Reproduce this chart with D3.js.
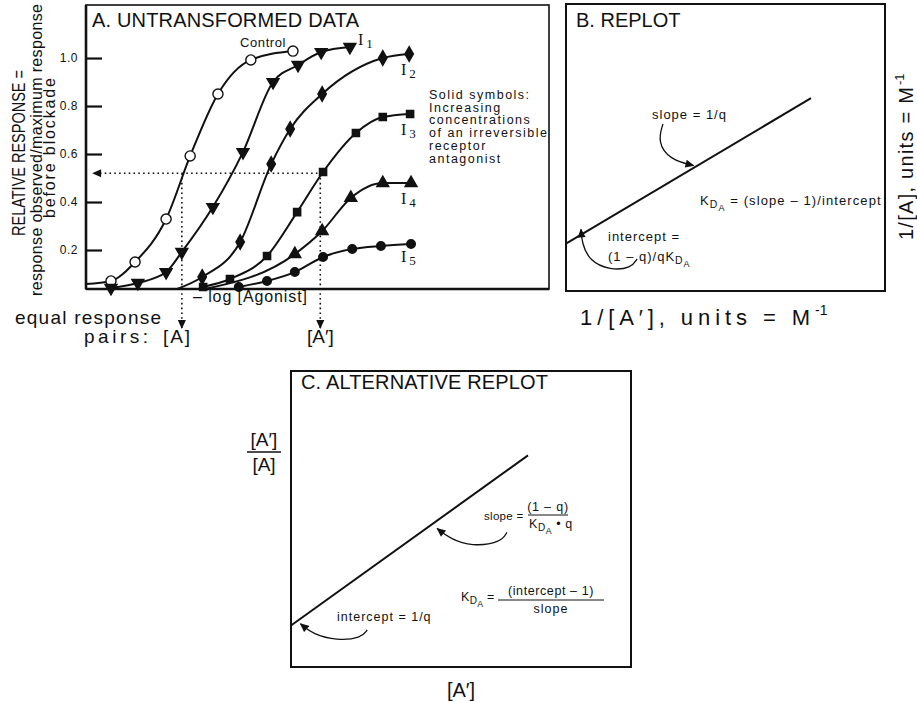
<!DOCTYPE html>
<html><head><meta charset="utf-8">
<script src="https://cdn.jsdelivr.net/npm/d3@7/dist/d3.min.js"></script>
<style>
html,body{margin:0;padding:0;background:#fff;}
svg{display:block;}
text{font-family:"Liberation Sans",Arial,Helvetica,sans-serif;fill:#111;}
</style></head><body>
<svg id="fig" width="917" height="702"></svg>
<script>
// ---------------- data (panel A: -log[Agonist] in arbitrary units, relative response) ----------------
const seriesNames = ["Control", "I1", "I2", "I3", "I4", "I5"];
const controlX = [0.54, 1.06, 1.73, 2.25, 2.85, 3.56, 4.47];
const controlY = [0.071, 0.150, 0.329, 0.592, 0.850, 0.992, 1.029];
const i1X = [0.54, 1.12, 1.73, 2.07, 2.74, 3.39, 4.04, 4.58, 5.08, 5.70];
const i1Y = [0.042, 0.0625, 0.108, 0.192, 0.379, 0.608, 0.900, 0.971, 1.025, 1.046];
const i2X = [2.51, 3.33, 4.00, 4.41, 5.10, 6.41, 6.98];
const i2Y = [0.0875, 0.233, 0.558, 0.704, 0.850, 1.000, 1.017];
const i3X = [2.53, 3.11, 3.91, 4.56, 5.12, 5.83, 6.41, 7.00];
const i3Y = [0.046, 0.079, 0.175, 0.358, 0.525, 0.6875, 0.754, 0.767];
const i4X = [4.51, 5.10, 5.72, 6.41, 7.02];
const i4Y = [0.183, 0.279, 0.417, 0.479, 0.479];
const i5X = [3.30, 3.91, 4.51, 5.12, 5.75, 6.37, 7.02];
const i5Y = [0.046, 0.071, 0.108, 0.171, 0.204, 0.217, 0.225];
// unmarked point where each drawn curve begins (null = begins at first symbol)
const curveStartX = [0, null, 1.97, null, 2.57, null];
const curveStartY = [0.058, null, 0.0375, null, 0.0375, null];
const yTickValues = [0.2, 0.4, 0.6, 0.8, 1.0];
const equalResponse = 0.52;
const pairA = 2.07, pairAprime = 5.06;
// panel B (replot) and C (alternative replot), normalised units
const replotX = [0, 0.768], replotY = [0.165, 0.672];
const altX = [0, 0.697], altY = [0.14, 0.715];
// annotation arrows (data units of their panel)
const bSlopeArrow = [[0.304, 0.582], [0.287, 0.520], [0.325, 0.458], [0.400, 0.437]];
const bInterArrow = [[0.223, 0.112], [0.205, 0.080], [0.138, 0.072], [0.072, 0.106], [0.050, 0.168], [0.047, 0.215]];
const cSlopeArrow = [[0.635, 0.455], [0.618, 0.421], [0.532, 0.407], [0.468, 0.433], [0.430, 0.468]];
const cInterArrow = [[0.224, 0.125], [0.207, 0.098], [0.135, 0.089], [0.065, 0.110], [0.028, 0.146]];

// ---------------- drawing ----------------
const ink = "#111";
const svg = d3.select("#fig");
svg.append("rect").attr("width", 917).attr("height", 702).attr("fill", "#fff");
const defs = svg.append("defs");
defs.append("marker").attr("id", "ah").attr("viewBox", "0 0 10 10")
  .attr("refX", 9).attr("refY", 5).attr("markerWidth", 10).attr("markerHeight", 9)
  .attr("markerUnits", "userSpaceOnUse").attr("orient", "auto")
  .append("path").attr("d", "M0,0.5 L10,5 L0,9.5 Z").attr("fill", ink);

function label(g, x, y, str, size, opts = {}) {
  const t = g.append("text").attr("x", x).attr("y", y).attr("font-size", size).text(str);
  if (opts.anchor) t.attr("text-anchor", opts.anchor);
  if (opts.ls !== undefined) t.attr("letter-spacing", opts.ls);
  if (opts.len) t.attr("textLength", opts.len).attr("lengthAdjust", opts.adj || "spacing");
  if (opts.rot) t.attr("transform", `rotate(-90,${x},${y})`);
  return t;
}
function kda(t, size) {
  t.append("tspan").text("K");
  t.append("tspan").attr("font-size", size * 0.8).attr("dy", 3).text("D");
  t.append("tspan").attr("font-size", size * 0.7).attr("dy", 3).text("A");
}

// ===== Panel A =====
const xA = d3.scaleLinear().domain([0, 10]).range([86, 549]);
const yA = d3.scaleLinear().domain([0.0375, 1.221]).range([289, 5]);
const gA = svg.append("g");
gA.append("rect").attr("x", xA(0)).attr("y", yA(1.221)).attr("width", xA(10) - xA(0))
  .attr("height", yA(0.0375) - yA(1.221)).attr("fill", "none").attr("stroke", ink).attr("stroke-width", 1.6);
gA.append("line").attr("x1", xA(0)).attr("x2", xA(0)).attr("y1", yA(1.221)).attr("y2", yA(0.0375))
  .attr("stroke", ink).attr("stroke-width", 2.6);
gA.append("line").attr("x1", xA(0)).attr("x2", xA(10)).attr("y1", yA(0.0375)).attr("y2", yA(0.0375))
  .attr("stroke", ink).attr("stroke-width", 2.6);
const axA = gA.append("g").attr("transform", `translate(${xA(0)},0)`)
  .call(d3.axisLeft(yA).tickValues(yTickValues).tickSize(-16).tickPadding(8).tickFormat(d3.format(".1f")));
axA.select(".domain").remove();
axA.selectAll(".tick line").attr("stroke", ink).attr("stroke-width", 2.2);
axA.selectAll(".tick text").attr("font-size", 12).attr("fill", ink).attr("letter-spacing", 0.5)
  .style("font-family", '"Liberation Sans",Arial,sans-serif');

label(gA, 92, 27, "A. UNTRANSFORMED DATA", 20, { len: 267 });

// dotted construction lines
function dline(x1, y1, x2, y2) {
  gA.append("line").attr("x1", x1).attr("y1", y1).attr("x2", x2).attr("y2", y2)
    .attr("stroke", ink).attr("stroke-width", 1.6).attr("stroke-dasharray", "1.6,3.2")
    .attr("marker-end", "url(#ah)");
}
dline(xA(pairAprime) + 2, yA(equalResponse), xA(0) + 7, yA(equalResponse));
dline(xA(pairA), yA(equalResponse), xA(pairA), yA(0.0375) + 39);
dline(xA(pairAprime), yA(equalResponse), xA(pairAprime), yA(0.0375) + 39);

// curves + symbols
const allX = [controlX, i1X, i2X, i3X, i4X, i5X];
const allY = [controlY, i1Y, i2Y, i3Y, i4Y, i5Y];
const symbols = [
  { type: d3.symbolCircle, size: 80, rot: 0, fill: "#fff" },
  { type: d3.symbolTriangle, size: 62, rot: 180, fill: ink },
  { type: d3.symbolDiamond, size: 62, rot: 0, fill: ink },
  { type: d3.symbolSquare, size: 52, rot: 0, fill: ink },
  { type: d3.symbolTriangle, size: 62, rot: 0, fill: ink },
  { type: d3.symbolCircle, size: 58, rot: 0, fill: ink }
];
const lineA = d3.line().x(d => xA(d[0])).y(d => yA(d[1])).curve(d3.curveMonotoneX);
seriesNames.forEach((name, i) => {
  const pts = allX[i].map((x, j) => [x, allY[i][j]]);
  const cpts = curveStartX[i] === null ? pts : [[curveStartX[i], curveStartY[i]]].concat(pts);
  gA.append("path").attr("d", lineA(cpts)).attr("fill", "none").attr("stroke", ink).attr("stroke-width", 2);
  const s = symbols[i];
  gA.selectAll(null).data(pts).enter().append("path")
    .attr("d", d3.symbol().type(s.type).size(s.size))
    .attr("transform", d => `translate(${xA(d[0])},${yA(d[1])}) rotate(${s.rot})`)
    .attr("fill", s.fill).attr("stroke", ink).attr("stroke-width", 1.4);
});

// series labels
label(gA, 240, 47, "Control", 13, { ls: 0.6 });
const iLabelPos = [null, [358, 45], [401, 75], [401, 135], [401, 204], [401, 262]];
iLabelPos.forEach((p, i) => {
  if (!p) return;
  const t = gA.append("text").attr("x", p[0]).attr("y", p[1]).attr("font-size", 16)
    .style("font-family", '"Liberation Serif","DejaVu Serif",serif');
  t.append("tspan").text("I");
  t.append("tspan").attr("font-size", 13).attr("dx", 3).attr("dy", 3).text(seriesNames[i].slice(1));
});

// explanatory note
["Solid symbols:", "Increasing", "concentrations", "of an irreversible", "receptor", "antagonist"]
  .forEach((s, i) => label(gA, 429, 99 + i * 12.7, s, 12.5, { ls: 1.5 }));

// axis labels panel A
label(gA, 193, 302, "\u2013 log [Agonist]", 16, { len: 114 });
label(svg, 15, 324, "equal response", 19, { len: 146 });
label(svg, 84, 343, "pairs:", 19, { len: 64 });
label(svg, 163, 343, "[A]", 19, { len: 27 });
label(svg, 307, 343, "[A\u2032]", 19);
label(svg, 25, 153, "RELATIVE RESPONSE =", 19, { rot: true, anchor: "middle", len: 166, adj: "spacingAndGlyphs" });
label(svg, 42, 150, "response observed/maximum response", 16, { rot: true, anchor: "middle", len: 292 });
label(svg, 55, 148, "before blockade", 16, { rot: true, anchor: "middle", len: 140 });

// ===== Panel B =====
const xB = d3.scaleLinear().domain([0, 1]).range([566, 885]);
const yB = d3.scaleLinear().domain([0, 1]).range([291, 4]);
const gB = svg.append("g");
gB.append("rect").attr("x", xB(0)).attr("y", yB(1)).attr("width", xB(1) - xB(0)).attr("height", yB(0) - yB(1))
  .attr("fill", "none").attr("stroke", ink).attr("stroke-width", 2);
label(gB, 576, 27, "B. REPLOT", 20);
const lineB = d3.line().x(d => xB(d[0])).y(d => yB(d[1]));
gB.append("path").attr("d", lineB(replotX.map((x, i) => [x, replotY[i]]))).attr("stroke", ink).attr("stroke-width", 2).attr("fill", "none");
const arrowB = d3.line().x(d => xB(d[0])).y(d => yB(d[1])).curve(d3.curveBasis);
[bSlopeArrow, bInterArrow].forEach(a => gB.append("path").attr("d", arrowB(a)).attr("fill", "none")
  .attr("stroke", ink).attr("stroke-width", 1.3).attr("marker-end", "url(#ah)"));
label(gB, 652, 119, "slope = 1/q", 13, { ls: 1 });
const kb = label(gB, 700, 205, "", 13, { ls: 1.1 });
kda(kb, 13);
kb.append("tspan").attr("dy", -6).text(" = (slope \u2013 1)/intercept");
label(gB, 608, 241, "intercept =", 13, { ls: 1 });
const ib = label(gB, 608, 261, "(1 \u2013 q)/qK", 13, { ls: 1 });
ib.append("tspan").attr("font-size", 10.4).attr("dy", 3).text("D");
ib.append("tspan").attr("font-size", 9).attr("dy", 3).text("A");
label(svg, 580, 325, "1/[A\u2032], units = M", 22, { len: 230 });
label(svg, 815, 315, "-1", 14);
svg.append("text").attr("transform", "translate(913,240) rotate(-90)").attr("font-size", 20)
  .attr("textLength", 153).attr("lengthAdjust", "spacing").text("1/[A], units = M");
svg.append("text").attr("transform", "translate(904,85) rotate(-90)").attr("font-size", 13).text("-1");

// ===== Panel C =====
const xC = d3.scaleLinear().domain([0, 1]).range([291, 631]);
const yC = d3.scaleLinear().domain([0, 1]).range([667, 371]);
const gC = svg.append("g");
gC.append("rect").attr("x", xC(0)).attr("y", yC(1)).attr("width", xC(1) - xC(0)).attr("height", yC(0) - yC(1))
  .attr("fill", "none").attr("stroke", ink).attr("stroke-width", 2);
label(gC, 301, 389, "C. ALTERNATIVE REPLOT", 20, { len: 247 });
const lineC = d3.line().x(d => xC(d[0])).y(d => yC(d[1]));
gC.append("path").attr("d", lineC(altX.map((x, i) => [x, altY[i]]))).attr("stroke", ink).attr("stroke-width", 2).attr("fill", "none");
const arrowC = d3.line().x(d => xC(d[0])).y(d => yC(d[1])).curve(d3.curveBasis);
[cSlopeArrow, cInterArrow].forEach(a => gC.append("path").attr("d", arrowC(a)).attr("fill", "none")
  .attr("stroke", ink).attr("stroke-width", 1.3).attr("marker-end", "url(#ah)"));
label(gC, 484, 520, "slope =", 11.5, { ls: 0.3 });
label(gC, 548, 511, "(1 \u2013 q)", 12.5, { anchor: "middle", ls: 0.8 });
gC.append("line").attr("x1", 528).attr("x2", 568).attr("y1", 515).attr("y2", 515).attr("stroke", ink).attr("stroke-width", 1);
const kc = label(gC, 529, 528, "", 12.5, { ls: 0.6 });
kda(kc, 12.5);
kc.append("tspan").attr("dy", -6).text(" \u2022 q");
const kc2 = label(gC, 461, 601, "", 12.5, { ls: 0.3 });
kda(kc2, 12.5);
kc2.append("tspan").attr("dy", -6).text(" =");
label(gC, 551, 595, "(intercept \u2013 1)", 12.5, { anchor: "middle", ls: 0.6 });
gC.append("line").attr("x1", 498).attr("x2", 604).attr("y1", 600).attr("y2", 600).attr("stroke", ink).attr("stroke-width", 1);
label(gC, 551, 613, "slope", 12.5, { anchor: "middle", ls: 1 });
label(gC, 337, 621, "intercept = 1/q", 12.5, { ls: 1 });
label(svg, 461, 697, "[A\u2032]", 20, { anchor: "middle" });
label(svg, 264, 446, "[A\u2032]", 19, { anchor: "middle" });
svg.append("line").attr("x1", 247).attr("x2", 281).attr("y1", 452).attr("y2", 452).attr("stroke", ink).attr("stroke-width", 1.6);
label(svg, 264, 471, "[A]", 19, { anchor: "middle" });
</script>
</body></html>
